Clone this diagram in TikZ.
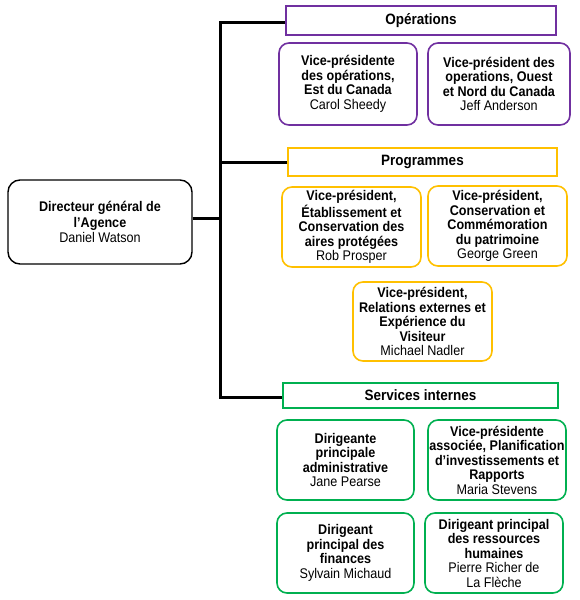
\documentclass[tikz,border=0pt]{standalone}
\usepackage{fontspec}
\setmainfont{Liberation Sans}[FakeStretch=0.9]
\definecolor{oppurple}{RGB}{112,48,160}
\definecolor{progamber}{RGB}{255,192,0}
\definecolor{servgreen}{RGB}{0,176,80}
\begin{document}
\begin{tikzpicture}[x=1pt,y=-1pt,
  conn/.style={line width=3pt},
  header/.style={draw, line width=1.8pt, rectangle, inner sep=0pt, align=center,
    font=\fontsize{15}{16}\selectfont\bfseries},
  unit/.style={draw, line width=1.6pt, rectangle, rounded corners=10pt, inner sep=0pt,
    align=center, font=\fontsize{14}{14.5}\selectfont},
  dirbox/.style={draw, line width=1.4pt, rectangle, rounded corners=12pt, inner sep=0pt,
    align=center, font=\fontsize{14}{15.5}\selectfont},
  ops/.style={draw=oppurple}, prg/.style={draw=progamber}, srv/.style={draw=servgreen}]
\useasboundingbox (0,0) rectangle (580,600);

% headers
\node[header, ops, minimum width=270pt, minimum height=29pt] (opsh) at (421,20.5) {Opérations};
\node[header, prg, minimum width=269pt, minimum height=28pt] (progh) at (422.5,162) {Programmes};
\node[header, srv, minimum width=275pt, minimum height=25pt] (servh) at (420.5,395.5) {Services internes};

% director
\node[dirbox, minimum width=184pt, minimum height=84pt] (dir) at (100,222)
  {\textbf{Directeur général de}\\\textbf{l’Agence}\\Daniel Watson};

% operations
\node[unit, ops, minimum width=138pt, minimum height=82pt] (carol) at (348,84)
  {\textbf{Vice-présidente}\\\textbf{des opérations,}\\\textbf{Est du Canada}\\Carol Sheedy};
\node[unit, ops, minimum width=142pt, minimum height=82pt] (jeff) at (499,84)
  {\textbf{Vice-président des}\\\textbf{operations, Ouest}\\\textbf{et Nord du Canada}\\Jeff Anderson};

% programmes
\node[unit, prg, minimum width=139pt, minimum height=80pt] (rob) at (351.5,227)
  {\textbf{Vice-président,}\\\textbf{Établissement et}\\\textbf{Conservation des}\\\textbf{aires protégées}\\Rob Prosper};
\node[unit, prg, minimum width=139pt, minimum height=80pt] (george) at (497.5,226)
  {\textbf{Vice-président,}\\\textbf{Conservation et}\\\textbf{Commémoration}\\\textbf{du patrimoine}\\George Green};
\node[unit, prg, minimum width=139pt, minimum height=79pt] (michael) at (422.5,321.5)
  {\textbf{Vice-président,}\\\textbf{Relations externes et}\\\textbf{Expérience du}\\\textbf{Visiteur}\\Michael Nadler};

% services internes
\node[unit, srv, minimum width=137pt, minimum height=80pt] (jane) at (345.5,460)
  {\textbf{Dirigeante}\\\textbf{principale}\\\textbf{administrative}\\Jane Pearse};
\node[unit, srv, minimum width=138pt, minimum height=80pt] (maria) at (497,460)
  {\textbf{Vice-présidente}\\\textbf{associée, Planification}\\\textbf{d’investissements et}\\\textbf{Rapports}\\Maria Stevens};
\node[unit, srv, minimum width=137pt, minimum height=80pt] (sylvain) at (345.5,553)
  {\textbf{Dirigeant}\\\textbf{principal des}\\\textbf{finances}\\Sylvain Michaud};
\node[unit, srv, minimum width=138pt, minimum height=80pt] (pierre) at (494,553)
  {\textbf{Dirigeant principal}\\\textbf{des ressources}\\\textbf{humaines}\\Pierre Richer de\\La Flèche};

% connectors
\coordinate (spine) at (220,0);
\draw[conn, line join=miter] ([yshift=-1.5pt]opsh.west) -| ([yshift=-1.5pt]servh.west -| spine) -- ([yshift=-1.5pt]servh.west);
\draw[conn] (progh.west) -- (progh.west -| spine);
\draw[conn] ([yshift=4pt]dir.east) -- ([yshift=4pt]dir.east -| spine);
\end{tikzpicture}
\end{document}
